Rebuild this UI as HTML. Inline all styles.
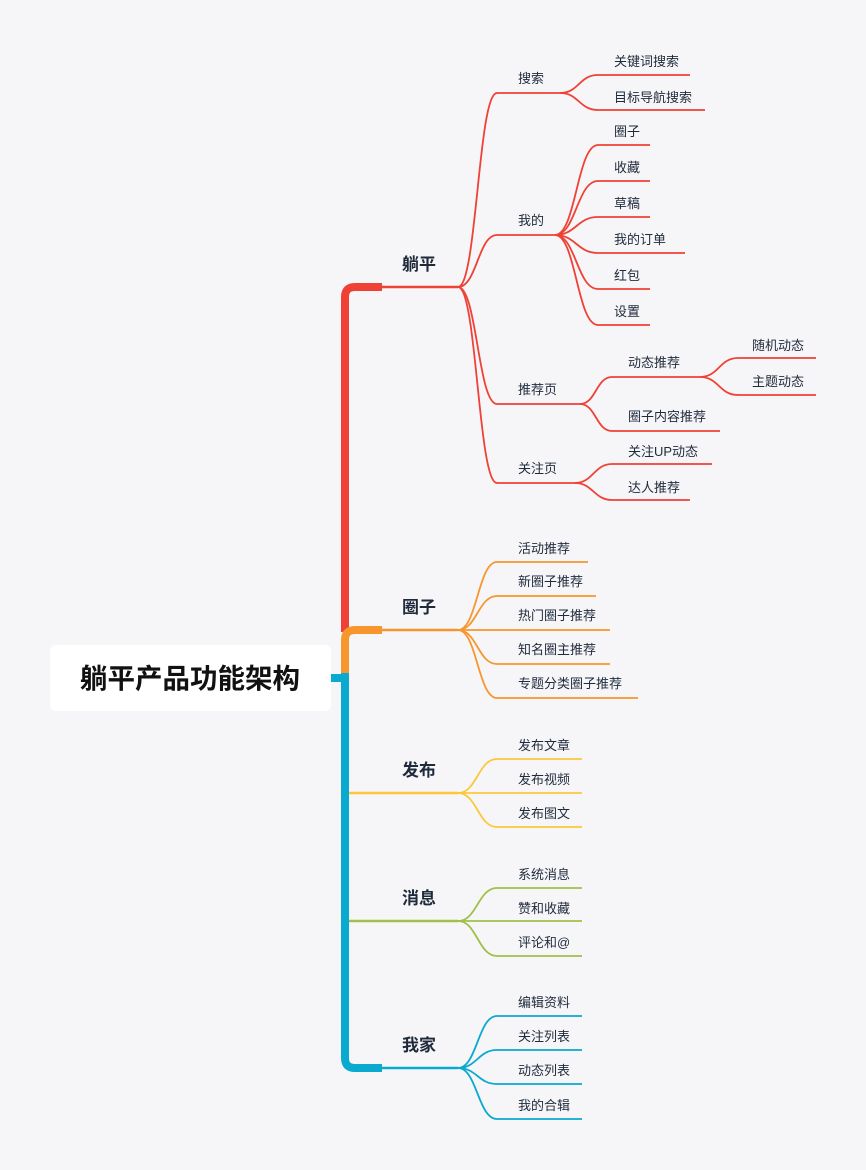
<!DOCTYPE html>
<html><head><meta charset="utf-8"><style>
html,body{margin:0;padding:0;background:#f6f6f9;}
svg{display:block;}
text{font-family:"Liberation Sans","Noto Sans CJK SC",sans-serif;fill:#1f2a3a;}
.s{font-size:13px;}
.m{font-size:17px;font-weight:bold;}
path{fill:none;}
</style></head><body>
<svg width="866" height="1170" viewBox="0 0 866 1170" xmlns="http://www.w3.org/2000/svg">
<path d="M382 287 H355 Q345 287 345 297 V632" stroke="#ef4136" stroke-width="8"/>
<path d="M382 630 H355 Q345 630 345 640 V675" stroke="#f7962c" stroke-width="8"/>
<path d="M345 673 V1058 Q345 1068 355 1068 H382" stroke="#0aa9cf" stroke-width="8"/>
<path d="M331 678 H345" stroke="#0aa9cf" stroke-width="8"/>
<path d="M349 793 H458" stroke="#fcc83a" stroke-width="2.5"/>
<path d="M349 921 H458" stroke="#a0c04a" stroke-width="2.5"/>
<path d="M380 287 H458" stroke="#ef4136" stroke-width="2.5"/>
<path d="M380 630 H458" stroke="#f7962c" stroke-width="2.5"/>
<path d="M380 1068 H458" stroke="#0aa9cf" stroke-width="2.5"/>
<rect x="50" y="645" width="281" height="66" rx="6" fill="#fff"/>
<text x="190" y="688" text-anchor="middle" style="font-size:27.5px;font-weight:bold;fill:#111">躺平产品功能架构</text>
<g stroke="#ef4136" stroke-width="1.8">
<path d="M458 287 C477 287 478 93 497 93 H560"/>
<path d="M458 287 C477 287 478 235 497 235 H555"/>
<path d="M458 287 C477 287 478 404 497 404 H580"/>
<path d="M458 287 C477 287 478 483 497 483 H575"/>
<path d="M560 93 C579 93 579 75 598 75 H690"/>
<path d="M560 93 C579 93 579 110 598 110 H705"/>
<path d="M555 235 C576 235 577 145 598 145 H650"/>
<path d="M555 235 C576 235 577 181 598 181 H650"/>
<path d="M555 235 C576 235 577 217 598 217 H650"/>
<path d="M555 235 C576 235 577 253 598 253 H685"/>
<path d="M555 235 C576 235 577 289 598 289 H650"/>
<path d="M555 235 C576 235 577 325 598 325 H650"/>
<path d="M580 404 C596 404 596 377 612 377 H700"/>
<path d="M580 404 C596 404 596 431 612 431 H720"/>
<path d="M700 377 C719 377 719 358 738 358 H816"/>
<path d="M700 377 C719 377 719 395 738 395 H816"/>
<path d="M575 483 C593 483 594 464 612 464 H712"/>
<path d="M575 483 C593 483 594 500 612 500 H690"/>
</g>
<g stroke="#f7962c" stroke-width="1.8">
<path d="M458 630 C477 630 478 562 497 562 H588"/>
<path d="M458 630 C477 630 478 596 497 596 H596"/>
<path d="M458 630 H610"/>
<path d="M458 630 C477 630 478 664 497 664 H610"/>
<path d="M458 630 C477 630 478 698 497 698 H638"/>
</g>
<g stroke="#fcc83a" stroke-width="1.8">
<path d="M458 793 C477 793 478 759 497 759 H582"/>
<path d="M458 793 H582"/>
<path d="M458 793 C477 793 478 827 497 827 H582"/>
</g>
<g stroke="#a0c04a" stroke-width="1.8">
<path d="M458 921 C477 921 478 888 497 888 H582"/>
<path d="M458 921 H582"/>
<path d="M458 921 C477 921 478 956 497 956 H582"/>
</g>
<g stroke="#0aa9cf" stroke-width="1.8">
<path d="M458 1068 C477 1068 478 1016 497 1016 H582"/>
<path d="M458 1068 C477 1068 478 1050 497 1050 H582"/>
<path d="M458 1068 C477 1068 478 1084 497 1084 H582"/>
<path d="M458 1068 C477 1068 478 1119 497 1119 H582"/>
</g>
<text class="m" x="402" y="270">躺平</text>
<text class="m" x="402" y="613">圈子</text>
<text class="m" x="402" y="776">发布</text>
<text class="m" x="402" y="904">消息</text>
<text class="m" x="402" y="1051">我家</text>
<g class="s">
<text class="s" x="518" y="83">搜索</text>
<text class="s" x="518" y="225">我的</text>
<text class="s" x="518" y="394">推荐页</text>
<text class="s" x="518" y="473">关注页</text>
<text class="s" x="614" y="66">关键词搜索</text>
<text class="s" x="614" y="102">目标导航搜索</text>
<text class="s" x="614" y="136">圈子</text>
<text class="s" x="614" y="172">收藏</text>
<text class="s" x="614" y="208">草稿</text>
<text class="s" x="614" y="244">我的订单</text>
<text class="s" x="614" y="280">红包</text>
<text class="s" x="614" y="316">设置</text>
<text class="s" x="628" y="367">动态推荐</text>
<text class="s" x="628" y="421">圈子内容推荐</text>
<text class="s" x="752" y="350">随机动态</text>
<text class="s" x="752" y="386">主题动态</text>
<text class="s" x="628" y="456">关注UP动态</text>
<text class="s" x="628" y="492">达人推荐</text>
<text class="s" x="518" y="553">活动推荐</text>
<text class="s" x="518" y="586">新圈子推荐</text>
<text class="s" x="518" y="620">热门圈子推荐</text>
<text class="s" x="518" y="654">知名圈主推荐</text>
<text class="s" x="518" y="688">专题分类圈子推荐</text>
<text class="s" x="518" y="750">发布文章</text>
<text class="s" x="518" y="784">发布视频</text>
<text class="s" x="518" y="818">发布图文</text>
<text class="s" x="518" y="879">系统消息</text>
<text class="s" x="518" y="913">赞和收藏</text>
<text class="s" x="518" y="947">评论和@</text>
<text class="s" x="518" y="1007">编辑资料</text>
<text class="s" x="518" y="1041">关注列表</text>
<text class="s" x="518" y="1075">动态列表</text>
<text class="s" x="518" y="1110">我的合辑</text>
</g>
</svg>
</body></html>
